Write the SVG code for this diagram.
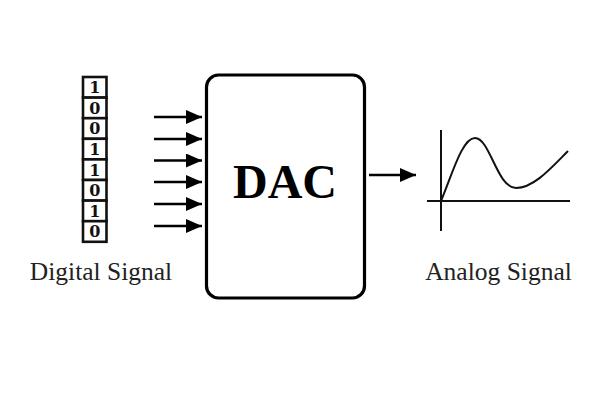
<svg xmlns="http://www.w3.org/2000/svg" width="600" height="400" viewBox="0 0 600 400">
<style>
.bit{font:bold 16px "DejaVu Serif",serif;fill:#111;text-anchor:middle}
.cell{fill:#fff;stroke:#111;stroke-width:2.6}
.arr{fill:none;stroke:#000;stroke-width:2.6;marker-end:url(#h)}
.lab{font:25.5px "Liberation Serif",serif;fill:#222;text-anchor:middle}
.ax{fill:none;stroke:#111;stroke-width:2}
</style>
<defs><marker id="h" markerUnits="userSpaceOnUse" markerWidth="17" markerHeight="15" refX="16" refY="7" orient="auto"><path d="M0,0L16,7L0,14Z" fill="#000"/></marker></defs>
<rect width="600" height="400" fill="#fff"/>
<g id="bits">
<rect class="cell" x="83" y="77" width="23.500" height="20.600"/><text class="bit" x="94.800" y="93.300">1</text>
<rect class="cell" x="83" y="97.600" width="23.500" height="20.600"/><text class="bit" x="94.800" y="113.800">0</text>
<rect class="cell" x="83" y="118.200" width="23.500" height="20.600"/><text class="bit" x="94.800" y="134.400">0</text>
<rect class="cell" x="83" y="138.800" width="23.500" height="20.600"/><text class="bit" x="94.800" y="155.100">1</text>
<rect class="cell" x="83" y="159.400" width="23.500" height="20.600"/><text class="bit" x="94.800" y="175.700">1</text>
<rect class="cell" x="83" y="180" width="23.500" height="20.600"/><text class="bit" x="94.800" y="196.200">0</text>
<rect class="cell" x="83" y="200.600" width="23.500" height="20.600"/><text class="bit" x="94.800" y="216.900">1</text>
<rect class="cell" x="83" y="221.200" width="23.500" height="20.600"/><text class="bit" x="94.800" y="237.400">0</text>
</g>
<g id="connectors">
<path class="arr" d="M154,117H202"/>
<path class="arr" d="M154,139H202"/>
<path class="arr" d="M154,160.500H202"/>
<path class="arr" d="M154,182H202"/>
<path class="arr" d="M154,204H202"/>
<path class="arr" d="M154,226H202"/>
<path class="arr" d="M369,175H416"/>
</g>
<g id="dac">
<rect x="206.500" y="75" width="158" height="223" rx="12" fill="#fff" stroke="#000" stroke-width="3.200"/>
<text x="285" y="198" font-family="Liberation Serif, serif" font-weight="bold" font-size="48" fill="#000" text-anchor="middle">DAC</text>
</g>
<g id="digital-label"><text class="lab" x="101" y="280">Digital Signal</text></g>
<g id="chart">
<path class="ax" d="M441,130V231M427,201H570"/>
<path class="ax" d="M441,201C452,175 462,138 475,138C490,138 497,188 516,188C534,188 552,167 568,151"/>
</g>
<g id="analog-label"><text class="lab" x="498.500" y="280">Analog Signal</text></g>
</svg>
